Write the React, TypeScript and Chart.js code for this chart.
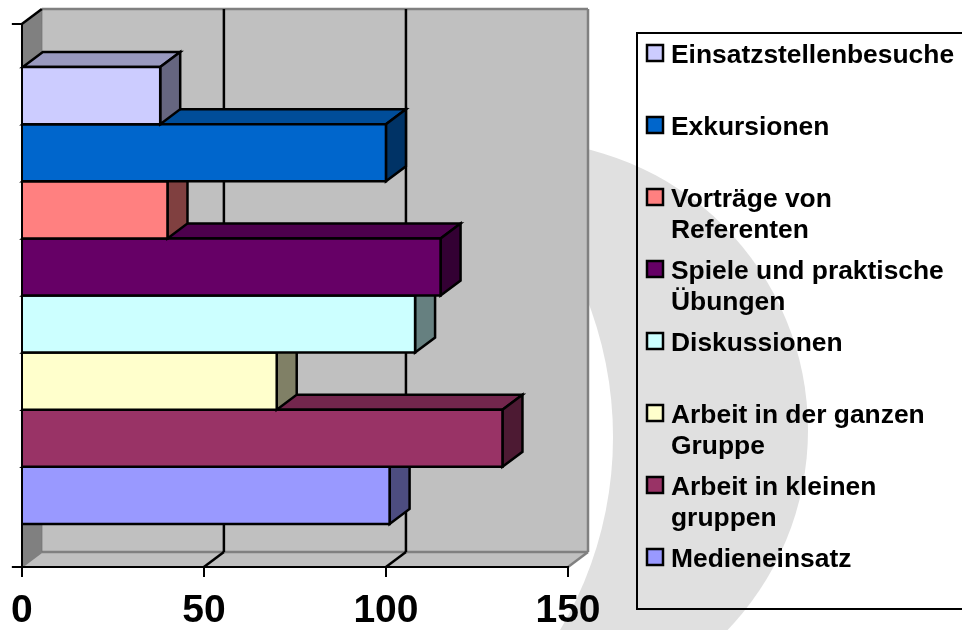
import React, { useEffect, useRef } from "react";
import { Chart, registerables } from "chart.js";

Chart.register(...registerables);

const seriesNames = [
  "Einsatzstellenbesuche",
  "Exkursionen",
  "Vorträge von Referenten",
  "Spiele und praktische Übungen",
  "Diskussionen",
  "Arbeit in der ganzen Gruppe",
  "Arbeit in kleinen gruppen",
  "Medieneinsatz",
];
const seriesValues = [38, 100, 40, 115, 108, 70, 132, 101];
const seriesColors = ["#CCCCFF", "#0066CC", "#FF8080", "#660066", "#CCFFFF", "#FFFFCC", "#993366", "#9999FF"];
const xTicks = [0, 50, 100, 150];

const FONT = '"Liberation Sans", Arial, sans-serif';
const DX = 20;
const DY = -15;
const LW = 2.5;

function shade(hex: string, k: number) {
  const n = parseInt(hex.slice(1), 16);
  const c = [(n >> 16) & 255, (n >> 8) & 255, n & 255].map((v) => Math.round(v * k));
  return `rgb(${c[0]},${c[1]},${c[2]})`;
}

function poly(ctx: CanvasRenderingContext2D, pts: number[][], fill: string | null, stroke: string | null, lw = LW) {
  ctx.beginPath();
  pts.forEach((p, i) => (i ? ctx.lineTo(p[0], p[1]) : ctx.moveTo(p[0], p[1])));
  ctx.closePath();
  if (fill) {
    ctx.fillStyle = fill;
    ctx.fill();
  }
  if (stroke) {
    ctx.strokeStyle = stroke;
    ctx.lineWidth = lw;
    ctx.lineJoin = "miter";
    ctx.stroke();
  }
}

function line(ctx: CanvasRenderingContext2D, x1: number, y1: number, x2: number, y2: number, color: string, lw = 2) {
  ctx.beginPath();
  ctx.moveTo(x1, y1);
  ctx.lineTo(x2, y2);
  ctx.strokeStyle = color;
  ctx.lineWidth = lw;
  ctx.stroke();
}

const backdrop = {
  id: "backdrop",
  beforeDraw(chart: any) {
    const { ctx, chartArea: a, scales } = chart;
    ctx.save();
    // page background with the grey crescent
    ctx.fillStyle = "#FFFFFF";
    ctx.fillRect(0, 0, chart.width, chart.height);
    ctx.fillStyle = "#E0E0E0";
    ctx.beginPath();
    ctx.arc(519, 430, 289, 0, Math.PI * 2);
    ctx.fill();
    ctx.fillStyle = "#FFFFFF";
    ctx.beginPath();
    ctx.arc(235, 437, 378, 0, Math.PI * 2);
    ctx.fill();

    const { left: l, right: r, top: t, bottom: b } = a;
    // back wall
    ctx.fillStyle = "#C0C0C0";
    ctx.fillRect(l + DX, t + DY, r - l, b - t);
    // side wall
    poly(ctx, [[l, t], [l + DX, t + DY], [l + DX, b + DY], [l, b]], "#808080", null);
    // floor
    poly(ctx, [[l, b], [l + DX, b + DY], [r + DX, b + DY], [r, b]], "#C0C0C0", null);
    // wall edges
    line(ctx, l + DX, t + DY, r + DX, t + DY, "#808080", 2.5);
    line(ctx, r + DX, t + DY, r + DX, b + DY, "#808080", 2.5);
    line(ctx, l + DX, b + DY, r + DX, b + DY, "#808080", 2.5);
    line(ctx, l + DX, t + DY, l + DX, b + DY, "#6E6E6E", 1);
    line(ctx, r, b, r + DX, b + DY, "#808080", 2.5);
    line(ctx, l, b, l + DX, b + DY, "#808080", 2);
    line(ctx, l, t, l + DX, t + DY, "#000000", LW);
    // grid lines
    xTicks.slice(1, -1).forEach((v) => {
      const x = scales.x.getPixelForValue(v);
      line(ctx, x + DX, t + DY, x + DX, b + DY, "#000000", LW);
      line(ctx, x, b, x + DX, b + DY, "#000000", LW);
    });
    ctx.restore();
  },
  beforeDatasetDraw(chart: any, args: any) {
    const { ctx } = chart;
    const bar = args.meta.data[0];
    if (!bar) return;
    const color = seriesColors[args.index];
    const x0 = bar.base;
    const x1 = bar.x;
    const y0 = bar.y - bar.height / 2;
    const y1 = bar.y + bar.height / 2;
    ctx.save();
    poly(ctx, [[x0, y0], [x0 + DX, y0 + DY], [x1 + DX, y0 + DY], [x1, y0]], shade(color, 0.75), "#000000");
    poly(ctx, [[x1, y0], [x1 + DX, y0 + DY], [x1 + DX, y1 + DY], [x1, y1]], shade(color, 0.5), "#000000");
    ctx.restore();
  },
  afterDatasetDraw(chart: any, args: any) {
    const { ctx } = chart;
    const bar = args.meta.data[0];
    if (!bar) return;
    ctx.save();
    ctx.strokeStyle = "#000000";
    ctx.lineWidth = LW;
    // only the three sides away from the axis stay heavy; the axis side is clipped to the axis line
    ctx.beginPath();
    const top = bar.y - bar.height / 2;
    const bot = bar.y + bar.height / 2;
    ctx.moveTo(bar.base, top);
    ctx.lineTo(bar.x, top);
    ctx.lineTo(bar.x, bot);
    ctx.lineTo(bar.base, bot);
    ctx.stroke();
    ctx.restore();
  },
  afterDraw(chart: any) {
    const { ctx, width } = chart;
    const boxL = 637;
    const boxT = 33;
    const boxB = 609;
    ctx.save();
    ctx.strokeStyle = "#000000";
    ctx.lineWidth = 2;
    ctx.beginPath();
    ctx.moveTo(width + 2, boxT);
    ctx.lineTo(boxL, boxT);
    ctx.lineTo(boxL, boxB);
    ctx.lineTo(width + 2, boxB);
    ctx.stroke();

    ctx.font = `bold 26.4px ${FONT}`;
    ctx.textBaseline = "alphabetic";
    ctx.textAlign = "left";
    seriesNames.forEach((name, i) => {
      const top = 45 + i * 72;
      ctx.fillStyle = seriesColors[i];
      ctx.fillRect(647, top, 16, 16);
      ctx.lineWidth = LW;
      ctx.strokeRect(647, top, 16, 16);
      const lines: string[] = [];
      let cur = "";
      name.split(" ").forEach((w) => {
        const next = cur ? cur + " " + w : w;
        if (ctx.measureText(next).width > 290 && cur) {
          lines.push(cur);
          cur = w;
        } else cur = next;
      });
      lines.push(cur);
      ctx.fillStyle = "#000000";
      lines.forEach((t, j) => ctx.fillText(t, 671, top + 18 + j * 31));
    });
    ctx.restore();
  },
};

export default function App() {
  const ref = useRef<HTMLCanvasElement>(null);
  useEffect(() => {
    const chart = new Chart(ref.current as HTMLCanvasElement, {
      type: "bar",
      data: {
        labels: [""],
        datasets: seriesNames.map((name, i) => ({
          label: name,
          data: [seriesValues[i]],
          backgroundColor: seriesColors[i],
          borderWidth: 0,
          categoryPercentage: 0.8416,
          barPercentage: 1,
        })),
      },
      options: {
        indexAxis: "y",
        animation: false,
        responsive: false,
        devicePixelRatio: 1,
        layout: { padding: { left: -1, top: 24, right: 394, bottom: 0 } },
        plugins: { legend: { display: false }, tooltip: { enabled: false } },
        scales: {
          x: {
            type: "linear",
            min: 0,
            max: 150,
            afterFit: (s: any) => {
              s.height = 63;
            },
            afterBuildTicks: (s: any) => {
              s.ticks = xTicks.map((value) => ({ value }));
            },
            border: { color: "#000000", width: 2 },
            grid: { drawOnChartArea: false, drawTicks: true, tickLength: 10, color: "#000000", lineWidth: 2 },
            ticks: {
              color: "#000000",
              padding: 11,
              maxRotation: 0,
              font: { family: FONT, size: 39, weight: "bold" },
            },
          },
          y: {
            afterFit: (s: any) => {
              s.width = 21;
            },
            border: { color: "#000000", width: 2, z: 5 },
            grid: { drawOnChartArea: false, drawTicks: true, tickLength: 10, color: "#000000", lineWidth: 2 },
            ticks: { display: false },
          },
        },
      },
      plugins: [backdrop],
    } as any);
    return () => chart.destroy();
  }, []);
  return (
    <canvas
      ref={ref}
      width={962}
      height={630}
      style={{ position: "absolute", left: 0, top: 0, width: 962, height: 630, display: "block" }}
    />
  );
}
